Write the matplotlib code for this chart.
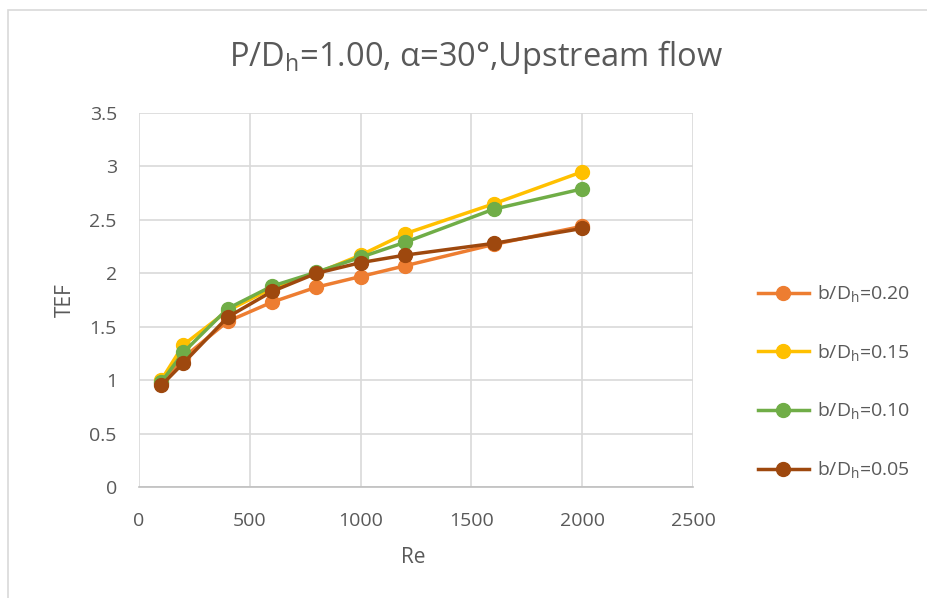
import numpy as np
import matplotlib
matplotlib.use('Agg')
import matplotlib.pyplot as plt
from matplotlib.patches import Rectangle

plt.rcParams['font.family'] = ['Open Sans', 'DejaVu Sans']
plt.rcParams['mathtext.fontset'] = 'custom'
plt.rcParams['mathtext.rm'] = 'Open Sans'

# data
re_vals = [100, 200, 400, 600, 800, 1000, 1200, 1600, 2000]
tef_020 = [0.97, 1.21, 1.55, 1.73, 1.87, 1.97, 2.07, 2.27, 2.44]
tef_015 = [1.00, 1.33, 1.65, 1.86, 2.00, 2.17, 2.37, 2.65, 2.95]
tef_010 = [0.98, 1.26, 1.67, 1.88, 2.01, 2.15, 2.29, 2.60, 2.79]
tef_005 = [0.95, 1.16, 1.59, 1.83, 2.00, 2.10, 2.17, 2.28, 2.42]
labels = ['0.20', '0.15', '0.10', '0.05']
colors = ['#ED7D31', '#FFC000', '#70AD47', '#9E480E']

fig = plt.figure(figsize=(9.27, 5.98), dpi=100)
ax = fig.add_axes([0.15, 0.1856, 0.5976, 0.6254])

# chart border
fig.patches.append(Rectangle((0.009, -0.1), 1.2, 1.083, transform=fig.transFigure,
                             fill=False, edgecolor='#d9d9d9', lw=1.2))

series = [tef_020, tef_015, tef_010, tef_005]
for i, ys in enumerate(series):
    ax.plot(re_vals, ys, '-o', color=colors[i], lw=2.5, ms=10,
            label=r'b/D$_\mathregular{h}$=' + labels[i], zorder=3 + i)

ax.set_xlim(0, 2500)
ax.set_ylim(0, 3.5)
ax.set_xticks(np.arange(0, 2501, 500))
ax.set_yticks(np.arange(0, 3.51, 0.5))
ax.set_yticklabels(['0', '0.5', '1', '1.5', '2', '2.5', '3', '3.5'])
ax.grid(True, color='#d9d9d9', lw=1.2)
ax.set_axisbelow(True)
for s in ['top', 'right', 'left']:
    ax.spines[s].set_visible(False)
ax.spines['bottom'].set_color('#bfbfbf')
ax.spines['bottom'].set_linewidth(1.2)
ax.tick_params(length=0, labelsize=14, colors='#595959')
ax.tick_params(axis='x', pad=18)
ax.tick_params(axis='y', pad=16)

ax.set_xlabel('Re', fontsize=15, color='#595959')
ax.set_ylabel('TEF', fontsize=15, color='#595959')
ax.xaxis.set_label_coords(0.495, -0.16)
ax.yaxis.set_label_coords(-0.114, 0.5)
fig.text(0.514, 0.905, r'P/D$_\mathregular{h}$=1.00, α=30°,Upstream flow',
         fontsize=23.5, color='#595959', ha='center', va='center')

leg = ax.legend(loc='center left', bbox_to_anchor=(1.086, 0.28), frameon=False,
                fontsize=14, labelcolor='#595959', handlelength=2.6,
                labelspacing=1.93, handletextpad=0.45)

fig.savefig('out.png', dpi=100)
